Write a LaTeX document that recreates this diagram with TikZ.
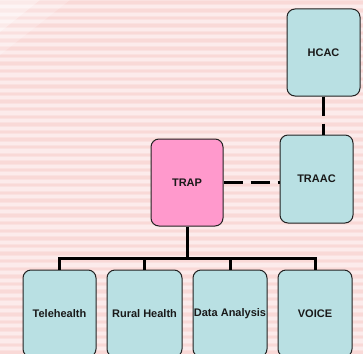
\documentclass[tikz,border=0pt]{standalone}
\usepackage{fontspec}
\setmainfont{Liberation Sans}
\definecolor{bgdark}{HTML}{F9D9D7}
\definecolor{bgmid}{HTML}{FAE1E0}
\definecolor{bglight}{HTML}{FCEBEB}
\definecolor{tealbox}{HTML}{B9E0E3}
\definecolor{pinkbox}{HTML}{FF99CC}
\definecolor{edge}{HTML}{222222}
\tikzset{
  orgbox/.style={draw=edge, line width=1pt, rounded corners=8pt, fill=tealbox,
    inner sep=0pt, minimum width=73pt, minimum height=87pt,
    font=\fontsize{11}{13}\selectfont\bfseries, text=black!90},
  pinkorg/.style={orgbox, fill=pinkbox},
  solidlink/.style={line width=3pt, black},
  dashlink/.style={line width=3pt, black, dash pattern=on 19pt off 8pt},
}
\begin{document}
\begin{tikzpicture}[x=1pt,y=-1pt]
\useasboundingbox (0,0) rectangle (363,353);
\clip (0,0) rectangle (363,353);
% background
\fill[bglight] (0,0) rectangle (363,353);
\foreach \k in {0,...,46} {
  \fill[bgmid] (0,{\k*7.6+0.5}) rectangle (363,{\k*7.6+5});
  \fill[bgdark] (0,{\k*7.6+1.5}) rectangle (363,{\k*7.6+4});
}
\fill[white, opacity=0.45] (0,0) -- (40,0) -- (0,32) -- cycle;
\fill[white, opacity=0.2] (40,0) -- (70,0) -- (0,55) -- (0,32) -- cycle;
% nodes
\node[orgbox] (hcac) at (323.5,52.5) {HCAC};
\node[orgbox, minimum height=88pt] (traac) at (316.5,179) {TRAAC};
\node[pinkorg, minimum width=72pt] (trap) at (187,182.5) {TRAP};
\node[orgbox] (tele) at (59.5,313.5) {Telehealth};
\node[orgbox, minimum width=75pt] (rural) at (144.5,313.5) {Rural Health};
\node[orgbox, minimum width=74pt] (data) at (230,313.5) {Data Analysis};
\node[orgbox, minimum width=74pt] (voice) at (315,313.5) {VOICE};
% connectors
\draw[dashlink] (hcac.south) -- (hcac.south |- traac.north);
\draw[dashlink] (trap.east) -- (trap.east -| traac.west);
\draw[solidlink] (trap.south) -- ++(0,32) coordinate (bus);
\draw[solidlink, line join=miter] (tele.north) |- (bus) -| (voice.north);
\draw[solidlink] (rural.north) -- (rural.north |- bus);
\draw[solidlink] (data.north) -- (data.north |- bus);
\end{tikzpicture}
\end{document}
